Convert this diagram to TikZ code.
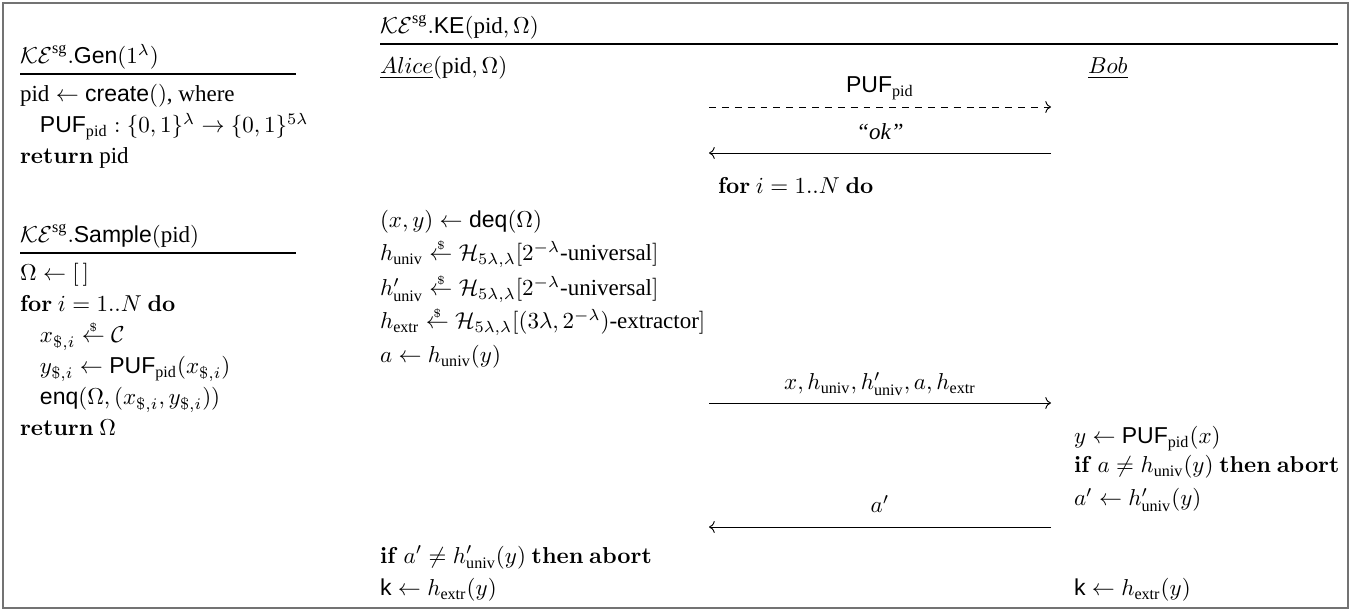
\documentclass[tikz,border=0pt]{standalone}
\usepackage{amsmath}
\usepackage[no-math]{fontspec}
\setmainfont{Liberation Serif}
\setsansfont{Liberation Sans}
\usetikzlibrary{arrows.meta}
\newcommand\alg[1]{\text{\sffamily #1}}
\newcommand\tx[1]{\text{\rmfamily\mdseries\upshape #1}}
\newcommand\kw[1]{\mathbf{#1}}
\newcommand\smp{\mathrel{\overset{\raisebox{-1.5pt}{$\scriptscriptstyle\$$}}{\leftarrow}}}
\newcommand\KEsg{\mathcal{KE}^{\tx{sg}}}
\begin{document}
\begin{tikzpicture}[x=0.4348pt,y=-0.4348pt,
  txt/.style={anchor=base west,inner sep=0pt,outer sep=0pt},
  lbl/.style={anchor=base,inner sep=0pt,outer sep=0pt},
  rule/.style={line width=0.5pt},
  msg/.style={line width=0.4pt,->},
  dmsg/.style={line width=0.4pt,->,dash pattern=on 3pt off 2.6pt}]
\useasboundingbox (0,0) rectangle (1354,612);
\draw[black!55,line width=0.8pt] (3,3) rectangle (1348,608);
% Gen
\node[txt] (gent) at (20,64) {$\KEsg.\alg{Gen}(1^\lambda)$};
\coordinate (gul) at (20,74); \coordinate (gur) at (296,74);
\draw[rule] (gul) -- (gur);
\node[txt] (g1) at (20,102) {$\tx{pid} \gets \alg{create}()$, where};
\node[txt] (g2) at (40,133) {$\alg{PUF}_{\tx{pid}} : \{0,1\}^\lambda \to \{0,1\}^{5\lambda}$};
\node[txt] (g3) at (20,164) {$\kw{return}\ \tx{pid}$};
% Sample
\node[txt] (st) at (20,243) {$\KEsg.\alg{Sample}(\tx{pid})$};
\coordinate (sul) at (20,253); \coordinate (sur) at (296,253);
\draw[rule] (sul) -- (sur);
\node[txt] (s1) at (20,281) {$\Omega \gets [\,]$};
\node[txt] (s2) at (20,312) {$\kw{for}\ i = 1..N\ \kw{do}$};
\node[txt] (s3) at (40,343) {$x_{\$,i} \smp \mathcal{C}$};
\node[txt] (s4) at (40,374) {$y_{\$,i} \gets \alg{PUF}_{\tx{pid}}(x_{\$,i})$};
\node[txt] (s5) at (40,405) {$\alg{enq}(\Omega, (x_{\$,i}, y_{\$,i}))$};
\node[txt] (s6) at (20,436) {$\kw{return}\ \Omega$};
% KE
\node[txt] (kt) at (380,34) {$\KEsg.\alg{KE}(\tx{pid},\Omega)$};
\coordinate (kl) at (380,44); \coordinate (kr) at (1338,44);
\draw[rule] (kl) -- (kr);
\node[txt] (alice) at (380,74) {$\underline{Alice}(\tx{pid},\Omega)$};
\node[txt] (bob) at (1088,74) {$\underline{Bob}$};
% messages
\coordinate (m1a) at (709,107); \coordinate (m1b) at (1051,107);
\draw[dmsg] (m1a) -- (m1b);
\node[lbl] (l1) at (880,93) {$\alg{PUF}_{\tx{pid}}$};
\coordinate (m2a) at (709,153); \coordinate (m2b) at (1051,153);
\draw[msg] (m2b) -- (m2a);
\node[lbl] (l2) at (880,140) {\rmfamily\itshape ``ok''};
\node[txt] (for) at (718,194) {$\kw{for}\ i = 1..N\ \kw{do}$};
\node[txt] (a1) at (380,228) {$(x,y) \gets \alg{deq}(\Omega)$};
\node[txt] (a2) at (380,261) {$h_{\tx{univ}} \smp \mathcal{H}_{5\lambda,\lambda}[2^{-\lambda}\tx{-universal}]$};
\node[txt] (a3) at (380,296) {$h'_{\tx{univ}} \smp \mathcal{H}_{5\lambda,\lambda}[2^{-\lambda}\tx{-universal}]$};
\node[txt] (a4) at (380,329) {$h_{\tx{extr}} \smp \mathcal{H}_{5\lambda,\lambda}[(3\lambda, 2^{-\lambda})\tx{-extractor}]$};
\node[txt] (a5) at (380,363) {$a \gets h_{\tx{univ}}(y)$};
\coordinate (m3a) at (709,403); \coordinate (m3b) at (1051,403);
\draw[msg] (m3a) -- (m3b);
\node[lbl] (l3) at (880,390) {$x, h_{\tx{univ}}, h'_{\tx{univ}}, a, h_{\tx{extr}}$};
\node[txt] (b1) at (1074,444) {$y \gets \alg{PUF}_{\tx{pid}}(x)$};
\node[txt] (b2) at (1074,473) {$\kw{if}\ a \neq h_{\tx{univ}}(y)\ \kw{then\ abort}$};
\node[txt] (b3) at (1074,506) {$a' \gets h'_{\tx{univ}}(y)$};
\coordinate (m4a) at (709,527); \coordinate (m4b) at (1051,527);
\draw[msg] (m4b) -- (m4a);
\node[lbl] (l4) at (880,513) {$a'$};
\node[txt] (a6) at (380,563) {$\kw{if}\ a' \neq h'_{\tx{univ}}(y)\ \kw{then\ abort}$};
\node[txt] (a7) at (380,596) {$\alg{k} \gets h_{\tx{extr}}(y)$};
\node[txt] (b4) at (1074,596) {$\alg{k} \gets h_{\tx{extr}}(y)$};
\end{tikzpicture}
\end{document}
